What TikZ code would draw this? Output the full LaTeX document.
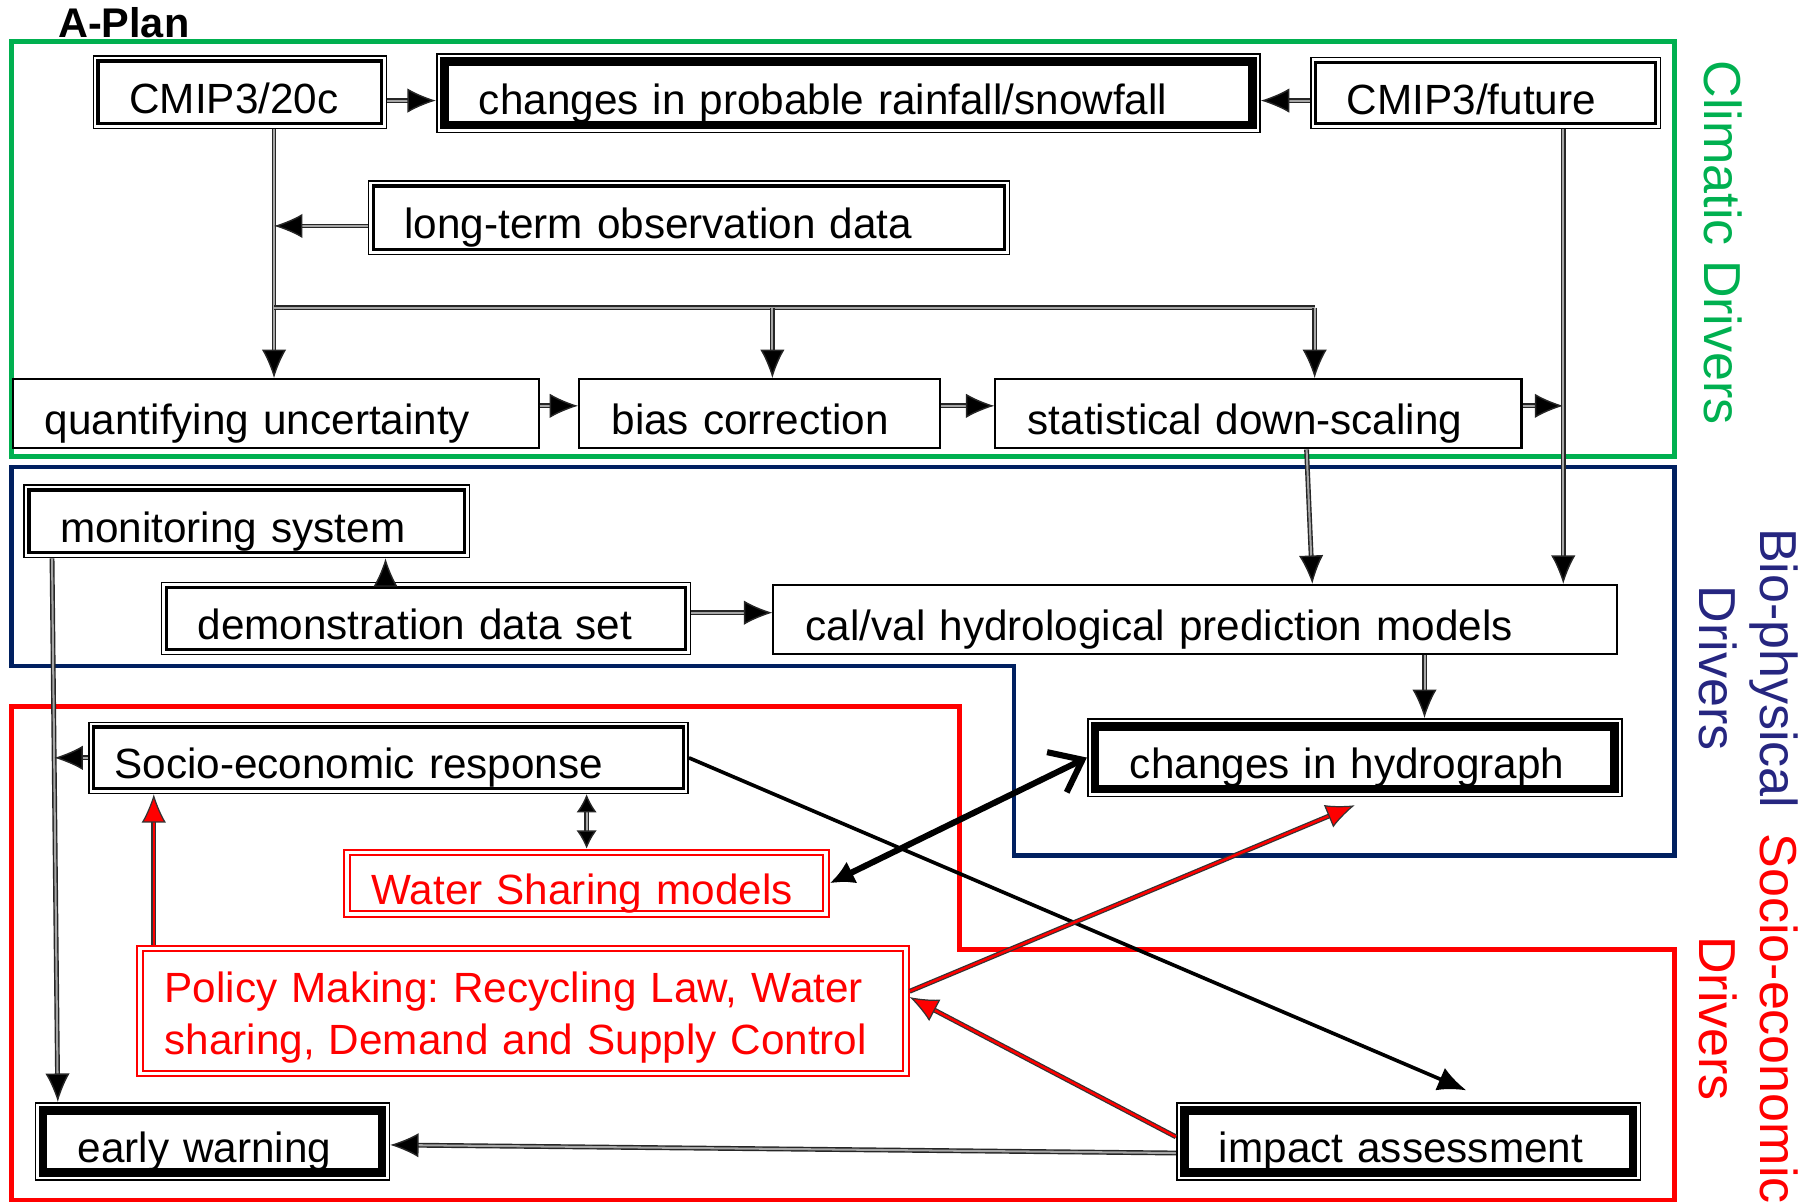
\documentclass[tikz,border=0pt]{standalone}
\usepackage{fontspec}
\setmainfont{Liberation Sans}
\usepackage{tikz}
\usetikzlibrary{arrows.meta, positioning, calc}
\pgfdeclarelayer{background}
\pgfsetlayers{background,main}
\definecolor{climgreen}{HTML}{00B050}
\definecolor{bionavy}{HTML}{002060}
\definecolor{biotext}{HTML}{262680}
\newcommand{\BoxFont}{\fontsize{10.4}{12.8}\selectfont}
\newcommand{\SideFont}{\fontsize{12.8}{15}\selectfont}
\frenchspacing
\tikzset{
    boxtext/.style={font=\BoxFont, anchor=north west, align=left, inner ysep=0pt, text height=11.4pt, text depth=1pt},
    outerline/.style={append after command={\pgfextra{\draw[line width=.4pt] ([shift={(.2pt,-.2pt)}]\tikzlastnode.north west) rectangle ([shift={(-.2pt,.2pt)}]\tikzlastnode.south east);}}},
    plainbox/.style={boxtext, draw, line width=.5pt, inner xsep=.28cm},
    dblbox/.style={boxtext, draw, line width=.85pt, outer sep=1.4pt, outerline, inner xsep=.27cm},
    thickbox/.style={boxtext, draw, line width=2.1pt, outer sep=2.05pt, outerline, inner xsep=.30cm},
    redbox/.style={boxtext, draw=red, text=red, double, double distance=.9pt, line width=.5pt, outer sep=.95pt, inner xsep=.21cm},
    frame/.style={line width=1.1pt},
    sidelabel/.style={font=\SideFont, rotate=-90, align=center},
    conn/.style={draw=black!85, line width=.35pt, double=gray!70, double distance=.5pt, -{Latex[length=7pt, width=6pt, fill=black]}},
    bothways/.style={{Latex[length=4.5pt, width=5pt, fill=black]}-{Latex[length=4.5pt, width=5pt, fill=black]}},
    redconn/.style={draw=black!80, line width=.3pt, double=red, double distance=.6pt, -{Latex[length=7pt, width=6pt, fill=red]}},
    boldconn/.style={draw, line width=.9pt, -{Latex[length=7pt, width=6pt]}},
    thickconn/.style={draw, line width=1.5pt, {Latex[length=6pt, width=6pt]}-{Straight Barb[length=7pt, width=11pt]}},
}
\begin{document}
\begin{tikzpicture}
    \useasboundingbox (0,0) rectangle (15.68,-10.40);

    \node[font=\fontsize{10.2}{12}\selectfont\bfseries] (aplan) at (1.07,-.20) {A-Plan};

    % climatic drivers
    \node[dblbox, minimum width=2.45cm, minimum height=.54cm, text width=1.91cm] (cmipPast) at (.80,-.48) {CMIP3/20c};
    \node[thickbox, minimum width=6.99cm, minimum height=.55cm, text width=6.39cm] (rainChange) at (3.77,-.46) {changes in probable rainfall/snowfall};
    \node[dblbox, minimum width=2.94cm, minimum height=.53cm, text width=2.40cm] (cmipFuture) at (11.33,-.49) {CMIP3/future};
    \node[dblbox, minimum width=5.46cm, minimum height=.55cm, text width=4.92cm] (obsData) at (3.18,-1.56) {long-term observation data};
    \node[plainbox, minimum width=4.55cm, minimum height=.60cm, text width=3.99cm] (uncert) at (.10,-3.27) {quantifying uncertainty};
    \node[plainbox, minimum width=3.12cm, minimum height=.60cm, text width=2.56cm] (biasCorr) at (5.00,-3.27) {bias correction};
    \node[plainbox, minimum width=4.55cm, minimum height=.60cm, text width=3.99cm] (downScale) at (8.60,-3.27) {statistical down-scaling};

    % bio-physical drivers
    \node[dblbox, minimum width=3.77cm, minimum height=.54cm, text width=3.23cm] (monitor) at (.20,-4.19) {monitoring system};
    \node[dblbox, minimum width=4.49cm, minimum height=.54cm, text width=3.95cm] (demoData) at (1.39,-5.03) {demonstration data set};
    \node[plainbox, minimum width=7.30cm, minimum height=.60cm, text width=6.74cm] (hydroModel) at (6.68,-5.05) {cal/val hydrological prediction models};
    \node[thickbox, minimum width=4.49cm, minimum height=.54cm, text width=3.89cm] (hydroChange) at (9.40,-6.21) {changes in hydrograph};

    % socio-economic drivers
    \node[dblbox, inner xsep=.18cm, minimum width=5.10cm, minimum height=.53cm, text width=4.74cm] (socioResp) at (.76,-6.24) {Socio-economic response};
    \node[redbox, minimum width=4.14cm, minimum height=.53cm, text width=3.72cm] (waterShare) at (2.97,-7.34) {Water Sharing models};
    \node[redbox, minimum width=6.62cm, minimum height=1.08cm, text width=6.20cm, text height=11pt, text depth=15pt] (policy) at (1.18,-8.17) {Policy Making: Recycling Law, Water\\sharing, Demand and Supply Control};
    \node[thickbox, minimum width=2.93cm, minimum height=.54cm, text width=2.33cm] (earlyWarn) at (.30,-9.53) {early warning};
    \node[thickbox, minimum width=3.88cm, minimum height=.54cm, text width=3.28cm] (impact) at (10.17,-9.53) {impact assessment};

    \node[sidelabel, text=climgreen] (climLabel) at (14.90,-2.10) {Climatic Drivers};
    \node[sidelabel, text=biotext] (bioLabel) at (15.12,-5.78) {Bio-physical\\Drivers};
    \node[sidelabel, text=red] (socioLabel) at (15.12,-8.81) {Socio-economic\\Drivers};

    \begin{pgfonlayer}{background}
      \draw[frame, climgreen] (.10,-.36) rectangle (14.48,-3.95);
      \draw[frame, bionavy] (.10,-4.04) -- (14.48,-4.04) -- (14.48,-7.40) -- (8.77,-7.40) -- (8.77,-5.76) -- (.10,-5.76) -- cycle;
      \draw[frame, red] (.10,-6.11) -- (8.30,-6.11) -- (8.30,-8.21) -- (14.48,-8.21) -- (14.48,-10.38) -- (.10,-10.38) -- cycle;
    \end{pgfonlayer}

    \coordinate (rowTop) at (0,-.87);
    \coordinate (rowMid) at (0,-3.51);
    \coordinate (pastLine) at (2.37,-2.66);
    \coordinate (biasLine) at (6.68,-2.66);
    \coordinate (scaleLine) at (11.37,-2.66);
    \coordinate (futureLine) at (13.52,0);
    \coordinate (modelLine) at (12.32,0);
    \coordinate (warnLine) at (.47,0);
    \coordinate (policyLine) at (1.33,0);

    \draw[conn] (cmipPast.east |- rowTop) -- (rainChange.west |- rowTop);
    \draw[conn] (cmipFuture.west |- rowTop) -- (rainChange.east |- rowTop);
    \draw[conn] (cmipPast.south -| pastLine) -- (uncert.north -| pastLine);
    \draw[conn] ([yshift=-.07cm]obsData.west) -- ([yshift=-.07cm]obsData.west -| pastLine);
    \draw[conn, -] (pastLine) -- (scaleLine);
    \draw[conn] (biasLine) -- (biasLine |- biasCorr.north);
    \draw[conn] (scaleLine) -- (scaleLine |- downScale.north);
    \draw[conn] (uncert.east |- rowMid) -- (biasCorr.west |- rowMid);
    \draw[conn] (biasCorr.east |- rowMid) -- (downScale.west |- rowMid);
    \draw[conn] (downScale.east |- rowMid) -- (futureLine |- rowMid);
    \draw[conn] (cmipFuture.south -| futureLine) -- (hydroModel.north -| futureLine);
    \draw[conn] ([xshift=-.07cm]downScale.south -| scaleLine) -- ([xshift=-.02cm]hydroModel.north -| scaleLine);

    \draw[conn] ([yshift=.05cm]demoData.east) -- ([yshift=.05cm]hydroModel.west |- demoData.east);
    \draw[conn] ([xshift=-.35cm]demoData.north) -- ([xshift=-.35cm]demoData.north |- monitor.south);
    \draw[conn] ([xshift=-.02cm]monitor.south -| warnLine) -- ([xshift=.03cm]earlyWarn.north -| warnLine);
    \draw[conn] (socioResp.west) -- (socioResp.west -| warnLine);
    \draw[conn, bothways] (waterShare.north |- socioResp.south) -- (waterShare.north);
    \draw[conn] (hydroModel.south -| modelLine) -- (hydroChange.north -| modelLine);

    \draw[thickconn] (waterShare.east) -- (hydroChange.west);
    \draw[boldconn] (socioResp.east) -- ([xshift=.5cm, yshift=.1cm]impact.north);
    \draw[redconn] ([yshift=.17cm]policy.east) -- ([yshift=-.07cm]hydroChange.south);
    \draw[redconn] ([yshift=.04cm]impact.west) -- ([yshift=.12cm]policy.east);
    \draw[conn] ([yshift=-.1cm]impact.west) -- ([yshift=-.03cm]earlyWarn.east);
    \draw[redconn] (policy.north -| policyLine) -- (socioResp.south -| policyLine);
\end{tikzpicture}
\end{document}
